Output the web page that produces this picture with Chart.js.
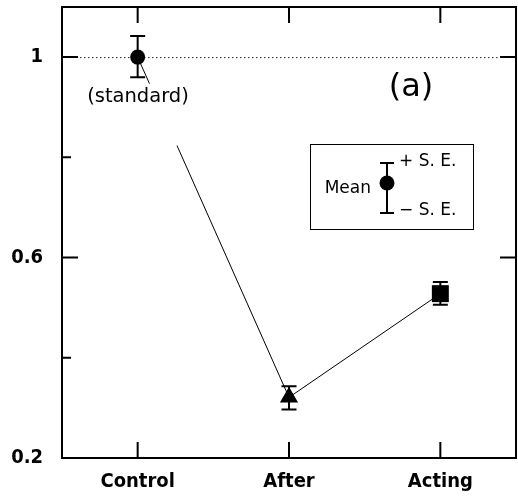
<!DOCTYPE html>
<html>
<head>
<meta charset="utf-8">
<script src="https://cdn.jsdelivr.net/npm/chart.js@4/dist/chart.umd.min.js"></script>
<style>
html,body{margin:0;padding:0;background:#fff;}
canvas{display:block;}
</style>
</head>
<body>
<canvas id="c" width="518" height="503"></canvas>
<script>
// ---- data ----
const categories = ['Control', 'After', 'Acting'];
const means = [1.0, 0.321, 0.528];
const errPlus = [0.042, 0.022, 0.023];
const errMinus = [0.040, 0.024, 0.022];
const yMajorTicks = [0.2, 0.6, 1];
const yMinorTicks = [0.4, 0.8];
const yRange = [0.2, 1.1];
const refValue = 1;
const markerStyles = ['circle', 'triangle', 'rect'];

const FONT = '"DejaVu Sans", sans-serif';
const TICKFONT = '"DejaVu Sans Condensed", "DejaVu Sans", sans-serif';

function noPad(s) {
  s.paddingTop = 0; s.paddingBottom = 0; s.paddingLeft = 0; s.paddingRight = 0;
}

const drawPlugin = {
  id: 'extras',
  beforeDatasetsDraw(chart) {
    const ctx = chart.ctx, x = chart.scales.x, y = chart.scales.y, a = chart.chartArea;
    ctx.save();
    // reference dotted line
    ctx.strokeStyle = '#222';
    ctx.lineWidth = 1;
    ctx.setLineDash([1.5, 2.5]);
    const yr = y.getPixelForValue(refValue);
    ctx.beginPath();
    ctx.moveTo(a.left + 18, yr + 0.5);
    ctx.lineTo(a.right - 16, yr + 0.5);
    ctx.stroke();
    ctx.setLineDash([]);
    // first connector segment with a gap for the label
    const x0 = x.getPixelForValue(0), y0 = y.getPixelForValue(means[0]);
    const x1 = x.getPixelForValue(1), y1 = y.getPixelForValue(means[1]);
    const P = t => [x0 + (x1 - x0) * t, y0 + (y1 - y0) * t];
    ctx.strokeStyle = '#000';
    ctx.lineWidth = 1;
    ctx.beginPath();
    let p = P(0); ctx.moveTo(p[0], p[1]);
    p = P(0.078); ctx.lineTo(p[0], p[1]);
    p = P(0.26); ctx.moveTo(p[0], p[1]);
    p = P(1); ctx.lineTo(p[0], p[1]);
    ctx.stroke();
    // error bars
    ctx.lineWidth = 2;
    means.forEach((m, i) => {
      const px = x.getPixelForValue(i);
      const top = y.getPixelForValue(m + errPlus[i]);
      const bot = y.getPixelForValue(m - errMinus[i]);
      ctx.beginPath();
      ctx.moveTo(px, top); ctx.lineTo(px, bot);
      ctx.moveTo(px - 7.5, top); ctx.lineTo(px + 7.5, top);
      ctx.moveTo(px - 7.5, bot); ctx.lineTo(px + 7.5, bot);
      ctx.stroke();
    });
    ctx.restore();
  },
  afterDraw(chart) {
    const ctx = chart.ctx, x = chart.scales.x, y = chart.scales.y, a = chart.chartArea;
    ctx.save();
    ctx.strokeStyle = '#000';
    ctx.lineWidth = 2;
    ctx.strokeRect(a.left, a.top, a.right - a.left, a.bottom - a.top);
    ctx.beginPath();
    categories.forEach((c, i) => {
      const px = x.getPixelForValue(i);
      ctx.moveTo(px, a.bottom); ctx.lineTo(px, a.bottom - 16);
      ctx.moveTo(px, a.top); ctx.lineTo(px, a.top + 16);
    });
    yMajorTicks.forEach(v => {
      const py = y.getPixelForValue(v);
      ctx.moveTo(a.left, py); ctx.lineTo(a.left + 16, py);
      ctx.moveTo(a.right, py); ctx.lineTo(a.right - 16, py);
    });
    yMinorTicks.forEach(v => {
      const py = y.getPixelForValue(v);
      ctx.moveTo(a.left, py); ctx.lineTo(a.left + 9, py);
    });
    ctx.stroke();

    // annotations
    ctx.fillStyle = '#000';
    ctx.textAlign = 'center';
    ctx.textBaseline = 'middle';
    ctx.font = '19.5px ' + FONT;
    ctx.fillText('(standard)', 138, 97);
    ctx.font = '32px ' + FONT;
    ctx.fillText('(a)', 411, 88);

    // legend box
    ctx.lineWidth = 1;
    ctx.strokeRect(310.5, 144.5, 163, 85);
    ctx.lineWidth = 2;
    ctx.beginPath();
    ctx.moveTo(387, 163); ctx.lineTo(387, 213);
    ctx.moveTo(380, 163); ctx.lineTo(394, 163);
    ctx.moveTo(380, 213); ctx.lineTo(394, 213);
    ctx.stroke();
    ctx.beginPath();
    ctx.arc(387, 183, 7.5, 0, Math.PI * 2);
    ctx.fill();
    ctx.font = '17px ' + FONT;
    ctx.textAlign = 'right';
    ctx.fillText('Mean', 371, 189);
    ctx.textAlign = 'left';
    ctx.fillText('+ S. E.', 399, 162);
    ctx.fillText('\u2212 S. E.', 399, 211);
    ctx.restore();
  }
};

new Chart(document.getElementById('c'), {
  type: 'line',
  data: {
    labels: categories,
    datasets: [{
      data: means,
      borderColor: '#000',
      borderWidth: 1,
      pointStyle: markerStyles,
      pointRadius: [7.5, 10.5, 12],
      pointBackgroundColor: '#000',
      pointBorderColor: '#000',
      pointBorderWidth: 0,
      clip: false,
      segment: {
        borderColor: c => c.p0DataIndex === 0 ? 'rgba(0,0,0,0)' : '#000'
      }
    }]
  },
  options: {
    responsive: false,
    animation: false,
    devicePixelRatio: 1,
    layout: { autoPadding: false, padding: { top: 7, right: 2, left: 0, bottom: 0 } },
    plugins: { legend: { display: false }, tooltip: { enabled: false } },
    scales: {
      x: {
        type: 'category',
        offset: true,
        grid: { display: false, drawTicks: false },
        border: { display: false },
        ticks: { color: '#000', font: { family: TICKFONT, size: 20, weight: 'bold' }, padding: 12 },
        afterFit(s) { s.height = 45; noPad(s); }
      },
      y: {
        min: yRange[0],
        max: yRange[1],
        grid: { display: false, drawTicks: false },
        border: { display: false },
        afterBuildTicks(s) { s.ticks = yMajorTicks.map(v => ({ value: v })); },
        ticks: {
          color: '#000',
          font: { family: TICKFONT, size: 20, weight: 'bold' },
          padding: 19,
          callback: v => String(v)
        },
        afterFit(s) { s.width = 62; noPad(s); }
      }
    }
  },
  plugins: [drawPlugin]
});
</script>
</body>
</html>
